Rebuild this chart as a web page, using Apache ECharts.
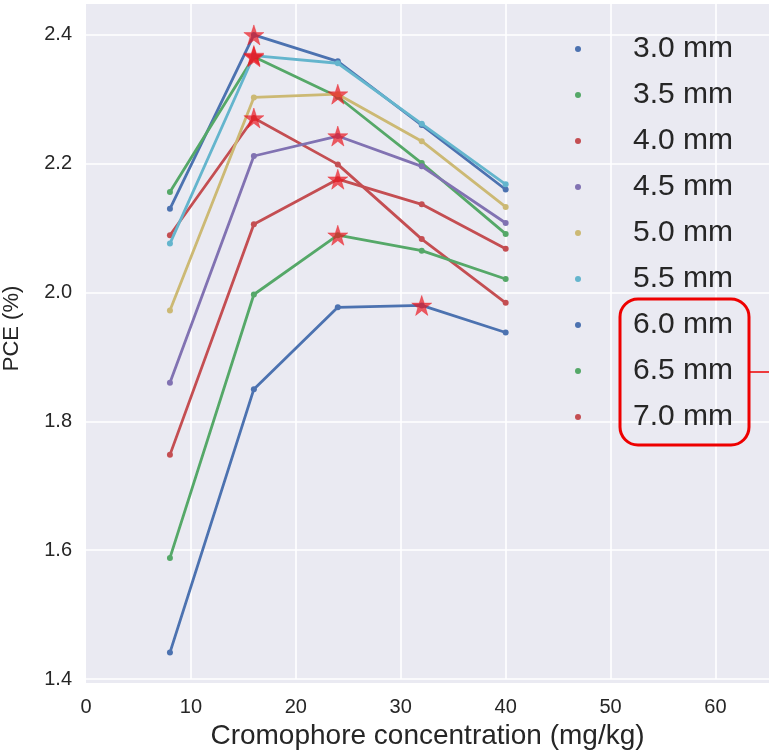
<!DOCTYPE html>
<html>
<head>
<meta charset="utf-8">
<script src="https://cdn.jsdelivr.net/npm/echarts@6/dist/echarts.min.js"></script>
<style>
html, body { margin: 0; padding: 0; background: #ffffff; }
#chart { width: 769px; height: 752px; }
</style>
</head>
<body>
<div id="chart"></div>
<script>
// ---- data ----
const xValues = [8, 16, 24, 32, 40];
const seriesNames = ['3.0 mm', '3.5 mm', '4.0 mm', '4.5 mm', '5.0 mm', '5.5 mm', '6.0 mm', '6.5 mm', '7.0 mm'];
const pce30 = [2.130, 2.400, 2.359, 2.260, 2.160];
const pce35 = [2.156, 2.366, 2.304, 2.201, 2.091];
const pce40 = [2.089, 2.271, 2.199, 2.083, 1.984];
const pce45 = [1.860, 2.212, 2.243, 2.196, 2.108];
const pce50 = [1.972, 2.303, 2.308, 2.235, 2.133];
const pce55 = [2.076, 2.368, 2.356, 2.262, 2.168];
const pce60 = [1.441, 1.850, 1.977, 1.980, 1.938];
const pce65 = [1.588, 1.997, 2.089, 2.065, 2.021];
const pce70 = [1.748, 2.106, 2.176, 2.137, 2.068];
const xTicks = [0, 10, 20, 30, 40, 50, 60];
const yTicks = [1.4, 1.6, 1.8, 2.0, 2.2, 2.4];

const allSeries = [pce30, pce35, pce40, pce45, pce50, pce55, pce60, pce65, pce70];
const palette = ['#4C72B0', '#55A868', '#C44E52', '#8172B2', '#CCB974', '#64B5CD', '#4C72B0', '#55A868', '#C44E52'];
const textColor = '#262626';
const font = 'Liberation Sans, Arial, sans-serif';

const starPath = 'path://M50,0 L61.8,35.1 L98.1,35.1 L68.8,56.8 L79.4,91.3 L50,70 L20.6,91.3 L31.2,56.8 L1.9,35.1 L38.2,35.1 Z';

const lineSeries = allSeries.map((vals, i) => ({
  name: seriesNames[i],
  type: 'line',
  data: xValues.map((x, j) => [x, vals[j]]),
  symbol: 'circle',
  symbolSize: 6,
  showSymbol: true,
  lineStyle: { width: 2.8, color: palette[i] },
  itemStyle: { color: palette[i], borderWidth: 0 },
  z: 2 + i * 0.01,
  animation: false,
  emphasis: { disabled: true }
}));

// star at the maximum of each series
const maxPoints = allSeries.map(vals => {
  let k = 0;
  vals.forEach((v, j) => { if (v > vals[k]) k = j; });
  return [xValues[k], vals[k]];
});

const starSeries = {
  name: 'max',
  type: 'scatter',
  data: maxPoints,
  symbol: starPath,
  symbolSize: 20,
  itemStyle: { color: 'rgba(235,20,30,0.85)', borderColor: 'rgba(235,20,30,0.6)', borderWidth: 0.8 },
  z: 5,
  animation: false,
  emphasis: { disabled: true }
};

const chart = echarts.init(document.getElementById('chart'), null, { renderer: 'canvas' });

const option = {
  animation: false,
  backgroundColor: '#ffffff',
  textStyle: { fontFamily: font },
  grid: { left: 86, right: 0, top: 4, bottom: 73, containLabel: false, outerBoundsMode: 'none' },
  graphic: [
    {
      type: 'rect', z: -10, silent: true,
      shape: { x: 86, y: 4, width: 683, height: 679 },
      style: { fill: '#EAEAF2' }
    },
    {
      type: 'rect', z: 100, silent: true,
      shape: { x: 620, y: 299, width: 129, height: 146, r: 18 },
      style: { fill: 'none', stroke: '#EE0000', lineWidth: 3 }
    },
    {
      type: 'line', z: 100, silent: true,
      shape: { x1: 749, y1: 372, x2: 769, y2: 372 },
      style: { stroke: '#EE0000', lineWidth: 1.5 }
    }
  ],
  legend: {
    data: seriesNames,
    orient: 'vertical',
    left: 570,
    top: 29,
    icon: 'circle',
    itemWidth: 100,
    itemHeight: 6,
    itemGap: 16,
    selectedMode: false,
    itemStyle: { borderWidth: 0 },
    textStyle: { fontSize: 30, color: textColor, fontFamily: font, padding: [0, 0, 12, 0] }
  },
  xAxis: {
    type: 'value',
    min: 0,
    max: 65.1,
    interval: 10,
    name: 'Cromophore concentration (mg/kg)',
    nameLocation: 'middle',
    nameGap: 43,
    nameTextStyle: { fontSize: 28, color: textColor, fontFamily: font },
    axisLine: { show: false },
    axisTick: { show: false },
    axisLabel: {
      fontSize: 20, color: textColor, fontFamily: font, margin: 18,
      showMaxLabel: false,
      formatter: v => (xTicks.indexOf(v) >= 0 ? String(v) : '')
    },
    splitLine: { show: true, showMinLine: false, showMaxLine: false, lineStyle: { color: '#ffffff', width: 1.6 } },
    z: 1
  },
  yAxis: {
    type: 'value',
    min: 1.4,
    max: 2.448,
    interval: 0.2,
    name: 'PCE (%)',
    nameLocation: 'middle',
    nameGap: 63,
    nameTextStyle: { fontSize: 22, color: textColor, fontFamily: font, padding: [0, 0, 0, 26] },
    axisLine: { show: false },
    axisTick: { show: false },
    axisLabel: {
      fontSize: 20, color: textColor, fontFamily: font, margin: 14,
      showMaxLabel: false,
      formatter: v => {
        const t = yTicks.find(y => Math.abs(y - v) < 1e-6);
        return t !== undefined ? t.toFixed(1) : '';
      }
    },
    splitLine: { show: true, showMinLine: true, showMaxLine: false, lineStyle: { color: '#ffffff', width: 1.6 } },
    z: 1
  },
  series: lineSeries.concat([starSeries])
};

chart.setOption(option);
</script>
</body>
</html>
